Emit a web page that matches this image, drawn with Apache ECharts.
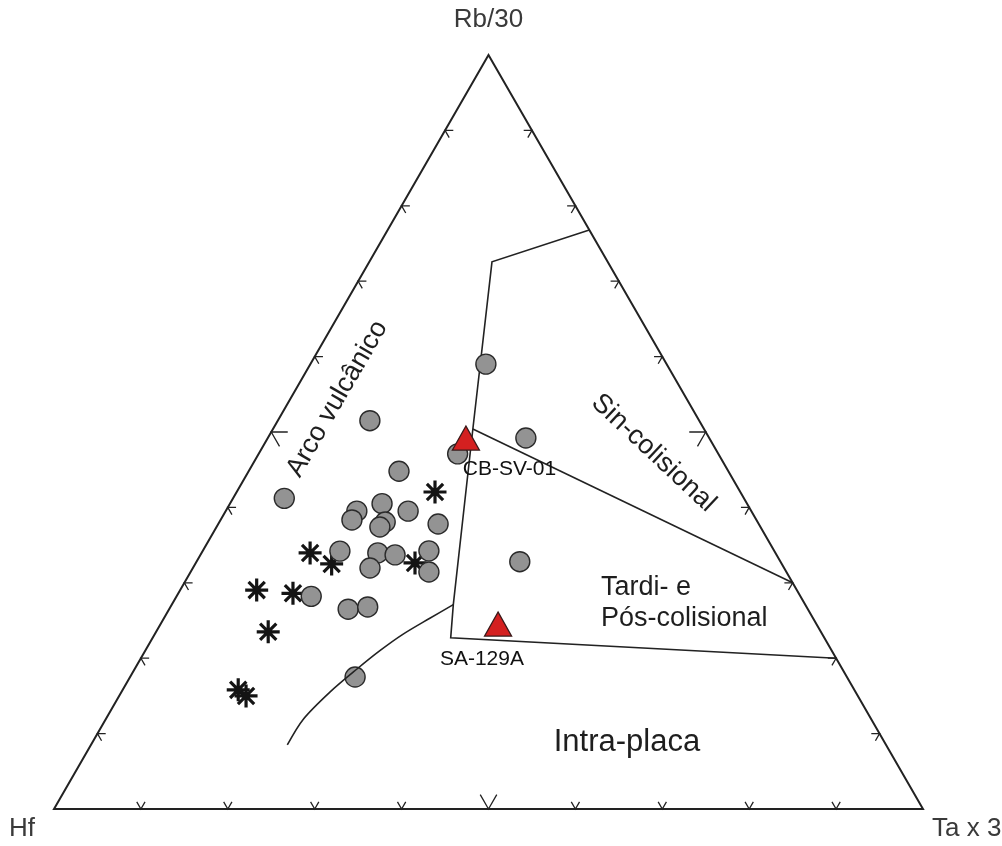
<!DOCTYPE html>
<html>
<head>
<meta charset="utf-8">
<title>Hf – Rb/30 – Ta x 3</title>
<script src="https://cdn.jsdelivr.net/npm/echarts@6/dist/echarts.min.js"></script>
<style>
  html, body { margin: 0; padding: 0; background: #ffffff; }
  #chart { width: 1002px; height: 846px; }
</style>
</head>
<body>
<div id="chart"></div>
<script>
// Every composition is [Hf, Rb/30, Ta x 3] in percent.
const apexNames = ['Hf', 'Rb/30', 'Ta x 3'];
const apexes = [[100, 0, 0], [0, 100, 0], [0, 0, 100]];

// Grey circles
const granitoids = [
  [20.8, 59.0, 20.2], [37.9, 51.5, 10.6], [30.0, 47.1, 22.9], [21.1, 49.2, 29.7],
  [37.9, 44.8, 17.3], [52.9, 41.2, 5.9],  [42.0, 40.5, 17.5], [45.4, 39.5, 15.1],
  [46.5, 38.3, 15.1], [39.5, 39.5, 21.0], [42.9, 38.1, 19.1], [43.8, 37.4, 18.8],
  [36.9, 37.8, 25.3], [50.0, 34.2, 15.8], [45.8, 34.0, 20.3], [43.9, 33.7, 22.4],
  [39.7, 34.2, 26.0], [47.7, 32.0, 20.4], [41.1, 31.4, 27.4], [30.0, 32.8, 37.2],
  [56.3, 28.2, 15.5], [52.9, 26.5, 20.6], [50.5, 26.8, 22.7], [56.6, 17.5, 25.9]
];

// Asterisks
const asterisks = [
  [35.1, 42.0, 22.8], [53.6, 34.0, 12.5], [51.8, 32.5, 15.7], [42.1, 32.6, 25.2],
  [62.1, 29.0, 8.8],  [58.2, 28.6, 13.2], [63.6, 23.5, 12.9], [70.9, 15.8, 13.3],
  [70.4, 15.0, 14.6]
];

// Red triangles
const sampleNames = ['CB-SV-01', 'SA-129A'];
const samples = [[28.0, 49.2, 22.8], [36.6, 24.5, 38.8]];

// Field boundaries
const boundaryMain = [
  [0, 76.8, 23.2], [13.3, 72.5, 14.1], [26.6, 50.4, 23.0],
  [40.5, 27.1, 32.4], [43.0, 22.7, 34.3], [0, 20, 80]
];
const boundarySyn = [[26.6, 50.4, 23.0], [0, 30, 70]];
const boundaryWithinPlate = [
  [68.9, 8.5, 22.6], [66.8, 12.1, 23.2], [60.5, 15.5, 24.0], [55.8, 18.6, 25.6],
  [52.0, 21.0, 27.0], [48.4, 23.1, 28.5], [44.1, 25.3, 30.6], [40.5, 27.1, 32.4]
];

// Field names and their anchors
const fieldNames = ['Arco vulcânico', 'Sin-colisional', 'Tardi- e\nPós-colisional', 'Intra-placa'];
const fieldAnchors = [[40.2, 54.4, 5.4], [7.4, 47.2, 45.4], [23.4, 27.3, 49.3], [29.7, 8.8, 61.6]];
const fieldAngles = [60, -43, 0, 0];

// Edge ticks, percent along each side
const tickSteps = [10, 20, 30, 40, 50, 60, 70, 80, 90];

// Ternary -> cartesian: x = Ta + Rb/2, y = Rb (the grid is sized so the triangle is equilateral)
function toXY(p) {
  const s = p[0] + p[1] + p[2];
  const rb = p[1] / s, ta = p[2] / s;
  return [ta + rb / 2, rb];
}

// Tick chevrons: two short arms parallel to the other two sides
function tickPolylines() {
  const out = [];
  tickSteps.forEach(k => {
    const t = k / 100;
    const d = k === 50 ? 0.019 : 0.0095;
    // bottom side (Hf - Ta)
    out.push([[1 - t - d, d, t], [1 - t, 0, t], [1 - t, d, t - d]]);
    // left side (Hf - Rb)
    out.push([[1 - t - d, t, d], [1 - t, t, 0], [1 - t, t - d, d]]);
    // right side (Rb - Ta)
    out.push([[d, t, 1 - t - d], [0, t, 1 - t], [d, t - d, 1 - t]]);
  });
  return out.map(line => ({ coords: line.map(toXY) }));
}

const frame = [apexes[0], apexes[2], apexes[1], apexes[0], apexes[2]].map(toXY);

const asteriskPath = 'path://M10,0L10,20M0,10L20,10M2.93,2.93L17.07,17.07M2.93,17.07L17.07,2.93';
const textFont = "'Liberation Sans', Arial, sans-serif";

const chart = echarts.init(document.getElementById('chart'), null, { renderer: 'canvas' });

chart.setOption({
  backgroundColor: '#ffffff',
  animation: false,
  grid: { left: 54, right: 79, top: 55, bottom: 37 },
  xAxis: { type: 'value', min: 0, max: 1, show: false },
  yAxis: { type: 'value', min: 0, max: 1, show: false },
  series: [
    {
      type: 'lines',
      coordinateSystem: 'cartesian2d',
      polyline: true,
      clip: false,
      silent: true,
      lineStyle: { color: '#222222', width: 2, opacity: 1, join: 'miter' },
      data: [{ coords: frame }]
    },
    {
      type: 'lines',
      coordinateSystem: 'cartesian2d',
      polyline: true,
      clip: false,
      silent: true,
      lineStyle: { color: '#222222', width: 1.3, opacity: 1 },
      data: tickPolylines()
    },
    {
      type: 'lines',
      coordinateSystem: 'cartesian2d',
      polyline: true,
      clip: false,
      silent: true,
      lineStyle: { color: '#222222', width: 1.6, opacity: 1 },
      data: [{ coords: boundaryMain.map(toXY) }, { coords: boundarySyn.map(toXY) }]
    },
    {
      type: 'line',
      smooth: 0.3,
      clip: false,
      silent: true,
      symbol: 'none',
      lineStyle: { color: '#222222', width: 1.6 },
      data: boundaryWithinPlate.map(toXY)
    },
    {
      name: 'asterisks',
      type: 'scatter',
      clip: false,
      symbol: asteriskPath,
      symbolSize: 23,
      itemStyle: { color: 'rgba(0,0,0,0)', borderColor: '#141414', borderWidth: 3.2, opacity: 1 },
      data: asterisks.map(toXY)
    },
    {
      name: 'granitoids',
      type: 'scatter',
      clip: false,
      symbol: 'circle',
      symbolSize: 20,
      itemStyle: { color: '#939393', borderColor: '#2a2a2a', borderWidth: 1.4, opacity: 1 },
      data: granitoids.map(toXY)
    },
    {
      name: 'samples',
      type: 'scatter',
      clip: false,
      symbol: 'triangle',
      symbolSize: [27, 24],
      itemStyle: { color: '#d42020', borderColor: '#3a1a1a', borderWidth: 1.3, opacity: 1 },
      label: {
        show: true,
        fontFamily: textFont,
        fontSize: 21,
        color: '#111111',
        align: 'left',
        verticalAlign: 'top',
        formatter: p => sampleNames[p.dataIndex]
      },
      data: samples.map((s, i) => ({
        value: toXY(s),
        label: { position: i === 0 ? [11, 33] : [-44, 37] }
      }))
    },
    {
      name: 'fields',
      type: 'scatter',
      clip: false,
      silent: true,
      symbolSize: 0,
      itemStyle: { opacity: 1 },
      label: {
        show: true,
        fontFamily: textFont,
        fontSize: 27,
        color: '#1e1e1e',
        formatter: p => fieldNames[p.dataIndex]
      },
      data: fieldAnchors.map((a, i) => ({
        value: toXY(a),
        label: i === 2
          ? { position: 'right', distance: 0, align: 'left', lineHeight: 31 }
          : i === 3
            ? { position: 'inside', fontSize: 31 }
            : { position: 'inside', rotate: fieldAngles[i] }
      }))
    },
    {
      name: 'apexes',
      type: 'scatter',
      clip: false,
      silent: true,
      symbolSize: 0,
      itemStyle: { opacity: 1 },
      label: {
        show: true,
        fontFamily: textFont,
        fontSize: 26,
        color: '#3a3a3a',
        formatter: p => apexNames[p.dataIndex]
      },
      data: apexes.map((a, i) => ({
        value: toXY(a),
        label: [
          { position: 'inside', offset: [-32, 20] },
          { position: 'inside', offset: [0, -35] },
          { position: 'inside', align: 'left', offset: [9, 20] }
        ][i]
      }))
    }
  ]
});
</script>
</body>
</html>
